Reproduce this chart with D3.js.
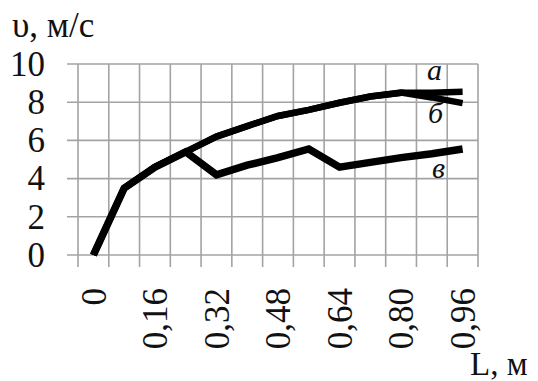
<!DOCTYPE html>
<html>
<head>
<meta charset="utf-8">
<script src="https://cdn.jsdelivr.net/npm/d3@7"></script>
<style>
  html, body { margin: 0; padding: 0; background: #ffffff; }
  svg { display: block; }
  svg text { font-family: 'Liberation Serif', 'Times New Roman', serif !important; fill: #111; }
</style>
</head>
<body>
<svg id="chart" width="538" height="381"></svg>
<script>
// ---- data ----
const categories = [0, 0.08, 0.16, 0.24, 0.32, 0.40, 0.48, 0.56, 0.64, 0.72, 0.80, 0.88, 0.96];
const seriesA = [0, 3.5, 4.6, 5.4, 6.2, 6.75, 7.28, 7.6, 7.97, 8.3, 8.5, 8.5, 8.55];
const seriesB = [0, 3.5, 4.6, 5.4, 6.2, 6.75, 7.28, 7.6, 7.97, 8.3, 8.5, 8.25, 7.95];
const seriesV = [0, 3.5, 4.6, 5.4, 4.2, 4.7, 5.1, 5.55, 4.6, 4.85, 5.1, 5.3, 5.55];
const seriesNames = ["а", "б", "в"];
const xTickValues = [0, 0.16, 0.32, 0.48, 0.64, 0.80, 0.96];
const xTickLabels = ["0", "0,16", "0,32", "0,48", "0,64", "0,80", "0,96"];
const yTickValues = [0, 2, 4, 6, 8, 10];
const yTitle = "υ, м/с";
const xTitle = "L, м";

// ---- layout ----
const pLeft = 78, pRight = 478, pTop = 64, pBottom = 255;
const FONT = "'Liberation Serif', 'Times New Roman', serif";
const svg = d3.select("#chart");

const x = d3.scaleBand().domain(categories).range([pLeft, pRight]).padding(0);
const y = d3.scaleLinear().domain([0, 10]).range([pBottom, pTop]);

const grid = svg.append("g");
grid.selectAll("line.h").data(yTickValues).join("line")
  .attr("class", "h")
  .attr("x1", pLeft - 11).attr("x2", pRight)
  .attr("y1", d => y(d)).attr("y2", d => y(d))
  .attr("stroke", "#a3a3a3").attr("stroke-width", 1.6);
const bounds = categories.map(c => x(c)).concat([x(categories[categories.length - 1]) + x.bandwidth()]);
grid.selectAll("line.v").data(bounds).join("line")
  .attr("class", "v")
  .attr("x1", d => d).attr("x2", d => d)
  .attr("y1", pTop).attr("y2", pBottom + 12)
  .attr("stroke", "#a3a3a3").attr("stroke-width", 1.6);

// y axis labels
const yAxis = d3.axisLeft(y).tickValues(yTickValues).tickSize(0).tickPadding(33).tickFormat(d3.format("d"));
const gy = svg.append("g").attr("transform", `translate(${pLeft},0)`).call(yAxis)
  .attr("font-family", FONT).attr("font-size", 35);
gy.select(".domain").remove();
gy.selectAll("text").attr("fill", "#111");

// x axis labels (rotated)
const xAxis = d3.axisBottom(x).tickValues(xTickValues).tickSize(0)
  .tickFormat(d => xTickLabels[xTickValues.indexOf(d)]);
const gx = svg.append("g").attr("transform", `translate(0,${pBottom})`).call(xAxis)
  .attr("font-family", FONT).attr("font-size", 35);
gx.select(".domain").remove();
gx.selectAll("text")
  .attr("fill", "#111")
  .attr("transform", "rotate(-90)")
  .attr("text-anchor", "end")
  .attr("x", -33).attr("y", 0).attr("dy", "0.35em");

// lines
const line = d3.line().x((d, i) => x(categories[i]) + x.bandwidth() / 2).y(d => y(d));
[[seriesV, 7.5], [seriesB, 6.5], [seriesA, 6.5]].forEach(([s, w]) => {
  svg.append("path").datum(s)
    .attr("d", line)
    .attr("fill", "none")
    .attr("stroke", "#000")
    .attr("stroke-width", w)
    .attr("stroke-linejoin", "miter")
    .attr("stroke-linecap", "butt");
});

// series labels
const labelPos = [[427, 80], [428, 123], [432, 178]];
seriesNames.forEach((n, i) => {
  svg.append("text").text(n)
    .attr("x", labelPos[i][0]).attr("y", labelPos[i][1])
    .attr("font-size", 30).attr("font-style", "italic");
});

// titles
svg.append("text").text(yTitle).attr("x", 12).attr("y", 37).attr("font-size", 35);
svg.append("text").text(xTitle).attr("x", 470).attr("y", 375).attr("font-size", 33);
</script>
</body>
</html>
